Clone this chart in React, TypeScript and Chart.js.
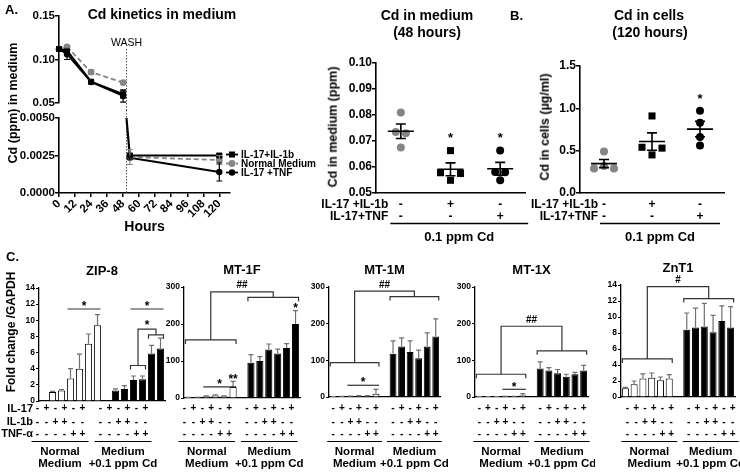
import React, { useEffect, useRef } from 'react';
import { Chart, registerables } from 'chart.js';

Chart.register(...registerables);

const FONT = '"Liberation Sans", Arial, Helvetica, sans-serif';
Chart.defaults.font.family = FONT;
Chart.defaults.color = '#000';

const GRAY = '#858585';

// ---------------- A. Cd kinetics in medium ----------------
const KIN_SERIES = ['IL-17+IL-1b', 'Normal Medium', 'IL-17 +TNF'];
const HOURS_BEFORE_WASH = [0, 6, 24, 48];
const IL1B_BEFORE = [0.112, 0.11, 0.0745, 0.06];
const IL1B_BEFORE_ERR = [0, 0.002, 0.0015, 0.004];
const NORMAL_BEFORE = [0.112, 0.1145, 0.0855, 0.0735];
const NORMAL_BEFORE_ERR = [0, 0.0015, 0.0025, 0.0015];
const TNF_BEFORE = [0.112, 0.106, 0.074, 0.058];
const TNF_BEFORE_ERR = [0, 0.006, 0.0015, 0.007];
const WASH_HOUR = 50.5;
const WASH_LEVEL = 0.005;
const HOURS_AFTER_WASH = [53, 120];
const IL1B_AFTER = [0.0025, 0.0025];
const IL1B_AFTER_ERR = [0.0001, 0.0001];
const NORMAL_AFTER = [0.0024, 0.0022];
const NORMAL_AFTER_ERR = [0.0005, 0.0003];
const TNF_AFTER = [0.00235, 0.0014];
const TNF_AFTER_ERR = [0.0001, 0.0006];
const HOUR_TICKS = [0, 12, 24, 36, 48, 60, 72, 84, 96, 108, 120];
const HOUR_AXIS_END = 128;
const UPPER_MIN = 0.05;
const UPPER_MAX = 0.15;
const UPPER_TICKS = [0.05, 0.1, 0.15];
const LOWER_TICKS = [0, 0.0025, 0.005];

// ---------------- Dot plots ----------------
const DOT_GROUPS = ['Control', 'IL-17+IL-1b', 'IL-17+TNF'];
const DOT_ROW_NAMES = ['IL-17 +IL-1b', 'IL-17+TNF'];
const DOT_ROW_IL1B = ['-', '+', '-'];
const DOT_ROW_TNF = ['-', '-', '+'];
const DOT_CAPTION = '0.1 ppm Cd';

const MED48_CONTROL = [0.081, 0.0735, 0.073, 0.0675];
const MED48_IL1B = [0.0663, 0.0578, 0.0575, 0.0549];
const MED48_TNF = [0.0663, 0.0581, 0.058, 0.0549];
const MED48_STARS = ['', '*', '*'];

const CELLS_CONTROL = [0.49, 0.32, 0.29, 0.29];
const CELLS_IL1B = [0.91, 0.54, 0.53, 0.45];
const CELLS_TNF = [0.97, 0.83, 0.66, 0.56];
const CELLS_STARS = ['', '', '*'];

// ---------------- C. bar charts ----------------
const ROW_NAMES = ['IL-17', 'IL-1b', 'TNF-\u03b1'];
const IL17_ROW = ['-', '+', '-', '+', '-', '+'];
const IL1B_ROW = ['-', '-', '+', '+', '-', '-'];
const TNF_ROW = ['-', '-', '-', '-', '+', '+'];
const GROUP_LABELS = [['Normal', 'Medium'], ['Medium', '+0.1 ppm Cd']];

const ZIP8_NORMAL = [1.1, 1.3, 2.8, 4.0, 7.1, 9.4];
const ZIP8_NORMAL_ERR = [0.1, 0.1, 1.2, 1.8, 1.2, 1.3];
const ZIP8_CD = [1.3, 1.5, 2.6, 2.7, 5.9, 6.5];
const ZIP8_CD_ERR = [0.2, 0.4, 0.5, 0.4, 1.0, 1.3];

const MT1F_NORMAL = [1, 1.5, 5, 7, 5, 30];
const MT1F_NORMAL_ERR = [0.5, 0.5, 1, 1.5, 1, 15];
const MT1F_CD = [95, 100, 131, 120, 135, 200];
const MT1F_CD_ERR = [22, 12, 15, 12, 12, 36];

const MT1M_NORMAL = [1, 1.5, 2, 3, 3, 9];
const MT1M_NORMAL_ERR = [0.3, 0.3, 0.5, 1, 1, 12];
const MT1M_CD = [118, 138, 123, 106, 138, 165];
const MT1M_CD_ERR = [35, 23, 30, 22, 37, 48];

const MT1X_NORMAL = [1, 1, 1, 1.5, 1.5, 5];
const MT1X_NORMAL_ERR = [0.3, 0.3, 0.3, 0.5, 0.5, 4];
const MT1X_CD = [78, 72, 65, 55, 62, 72];
const MT1X_CD_ERR = [18, 8, 10, 7, 5, 14];

const ZNT1_NORMAL = [1.1, 1.6, 2.3, 2.4, 2.1, 2.3];
const ZNT1_NORMAL_ERR = [0.1, 0.4, 0.6, 0.6, 0.4, 0.5];
const ZNT1_CD = [8.4, 8.7, 8.8, 8.1, 9.5, 8.7];
const ZNT1_CD_ERR = [2.1, 2.4, 2.9, 2.1, 1.9, 2.6];

// significance marks (bar numbers 0-11: 0-5 normal, 6-11 Cd)
const ZIP8_MARKS = [
  { kind: 'line', from: 2, to: 5, y: 11.4, label: '*' },
  { kind: 'line', from: 8, to: 11, y: 11.4, label: '*' },
  { kind: 'bridge', a: [8, 9], ay: 4.4, b: [10, 11], by: 8.2, top: 8.9, label: '*' },
];
const MT1F_MARKS = [
  { kind: 'line', from: 2, to: 5, y: 30, label: '*' },
  { kind: 'text', at: 5, y: 60, label: '**' },
  { kind: 'text', at: 11, y: 252, label: '*' },
  { kind: 'bridge', a: [0, 5], ay: 157, b: [6, 11], by: 272, top: 287, label: '##' },
];
const MT1M_MARKS = [
  { kind: 'line', from: 2, to: 5, y: 32, label: '*' },
  { kind: 'bridge', a: [0, 5], ay: 94, b: [6, 11], by: 274, top: 289, label: '##' },
];
const MT1X_MARKS = [
  { kind: 'line', from: 3, to: 5, y: 21, label: '*' },
  { kind: 'bridge', a: [0, 5], ay: 62, b: [6, 11], by: 126, top: 193, label: '##' },
];
const ZNT1_MARKS = [
  { kind: 'bridge', a: [0, 5], ay: 4.76, b: [6, 11], by: 12.3, top: 13.8, label: '#' },
];

// ---------------- helpers ----------------
function spreadOffsets(ys: number[], near: number, step: number): number[] {
  const order = ys.map((_, i) => i).sort((a, b) => ys[a] - ys[b]);
  const offs = ys.map(() => 0);
  const clusters: number[][] = [];
  order.forEach((i) => {
    const last = clusters[clusters.length - 1];
    if (last && ys[i] - ys[last[last.length - 1]] < near) last.push(i);
    else clusters.push([i]);
  });
  clusters.forEach((c) => {
    const n = c.length;
    if (n < 2) return;
    const iso = c.map((i) => Math.min(...c.filter((j) => j !== i).map((j) => Math.abs(ys[i] - ys[j]))));
    const rank = c.map((_, k) => k).sort((a, b) => (iso[b] - iso[a]) || (ys[c[a]] - ys[c[b]]));
    const slots = c.map((_, k) => k - (n - 1) / 2).sort((a, b) => (Math.abs(a) - Math.abs(b)) || (a - b));
    rank.forEach((k, r) => { offs[c[k]] = slots[r] * step; });
  });
  return offs;
}

function drawMark(ctx: any, text: string, x: number, yCenter: number, size: number) {
  ctx.font = `bold ${size}px ${FONT}`;
  ctx.textAlign = 'center';
  ctx.textBaseline = 'alphabetic';
  const k = text.includes('*') ? 0.6 : 0.36;
  ctx.fillText(text, x, yCenter + k * size);
}

const KIN_STYLES = [
  { color: '#000', dash: [] as number[], width: 2.2, point: 'rect', radius: 4.2 },
  { color: GRAY, dash: [5, 3], width: 1.8, point: 'circle', radius: 3.4 },
  { color: '#000', dash: [] as number[], width: 1.8, point: 'circle', radius: 3.2 },
];

function kinDataset(i: number, xs: number[], ys: number[], shown: boolean[]) {
  const s = KIN_STYLES[i];
  return {
    label: KIN_SERIES[i],
    data: xs.map((x, k) => ({ x, y: ys[k] })),
    borderColor: s.color,
    backgroundColor: s.color,
    borderWidth: s.width,
    borderDash: s.dash,
    pointStyle: s.point,
    pointRadius: shown.map((v) => (v ? s.radius : 0)),
    pointBorderWidth: 0,
    tension: 0,
    clip: false,
  };
}

function errorBarsPlugin(errs: number[][]) {
  return {
    id: 'kinErr',
    afterDatasetsDraw(chart: any) {
      const ctx = chart.ctx;
      const ys = chart.scales.y;
      chart.data.datasets.forEach((ds: any, di: number) => {
        const meta = chart.getDatasetMeta(di);
        meta.data.forEach((el: any, i: number) => {
          const e = errs[di][i];
          if (!e) return;
          const v = ds.data[i].y;
          const y1 = ys.getPixelForValue(v + e);
          const y2 = ys.getPixelForValue(v - e);
          ctx.save();
          ctx.strokeStyle = KIN_STYLES[di].color;
          ctx.lineWidth = 1.2;
          ctx.beginPath();
          ctx.moveTo(el.x, y1); ctx.lineTo(el.x, y2);
          ctx.moveTo(el.x - 3, y1); ctx.lineTo(el.x + 3, y1);
          ctx.moveTo(el.x - 3, y2); ctx.lineTo(el.x + 3, y2);
          ctx.stroke();
          ctx.restore();
        });
      });
    },
  };
}

// y tick labels drawn from the scale
function yLabelsPlugin(values: number[], digits: number, font: string) {
  return {
    id: 'yLabels',
    afterDraw(chart: any) {
      const { ctx, chartArea: ca } = chart;
      const ys = chart.scales.y;
      ctx.save();
      ctx.fillStyle = '#000';
      ctx.font = font;
      ctx.textAlign = 'right';
      ctx.textBaseline = 'middle';
      values.forEach((v) => ctx.fillText(v.toFixed(digits), ca.left - 4, ys.getPixelForValue(v)));
      ctx.restore();
    },
  };
}

function washPlugin(upper: boolean) {
  return {
    id: 'wash',
    beforeDatasetsDraw(chart: any) {
      const { ctx, chartArea: ca } = chart;
      const x = Math.round(chart.scales.x.getPixelForValue(WASH_HOUR)) + 0.5;
      const y0 = upper ? ca.top + 33 : 0;
      const y1 = upper ? chart.height : ca.bottom;
      ctx.save();
      ctx.strokeStyle = '#555';
      ctx.lineWidth = 1;
      ctx.setLineDash([1.5, 1.5]);
      ctx.beginPath(); ctx.moveTo(x, y0); ctx.lineTo(x, y1); ctx.stroke();
      if (upper) {
        ctx.setLineDash([]);
        ctx.fillStyle = '#000';
        ctx.font = `10.5px ${FONT}`;
        ctx.textAlign = 'center';
        ctx.textBaseline = 'middle';
        ctx.fillText('WASH', x, ca.top + 27);
      }
      ctx.restore();
    },
  };
}

function kinLegendPlugin() {
  return {
    id: 'kinLegend',
    afterDraw(chart: any) {
      const { ctx, chartArea: ca } = chart;
      ctx.save();
      KIN_SERIES.forEach((name, i) => {
        const s = KIN_STYLES[i];
        const y = ca.top + 36.5 + i * 9;
        const x0 = ca.right - 4;
        const x1 = ca.right + 8;
        ctx.strokeStyle = s.color;
        ctx.lineWidth = 1.8;
        ctx.setLineDash(s.dash.length ? [3, 2] : []);
        ctx.beginPath(); ctx.moveTo(x0, y); ctx.lineTo(x1, y); ctx.stroke();
        ctx.setLineDash([]);
        ctx.fillStyle = s.color;
        const cx = (x0 + x1) / 2;
        if (s.point === 'rect') ctx.fillRect(cx - 3, y - 3, 6, 6);
        else { ctx.beginPath(); ctx.arc(cx, y, s.radius, 0, Math.PI * 2); ctx.fill(); }
        ctx.fillStyle = '#000';
        ctx.font = `bold 10px ${FONT}`;
        ctx.textAlign = 'left';
        ctx.textBaseline = 'middle';
        ctx.fillText(name, x1 + 3, y + 0.5);
      });
      ctx.restore();
    },
  };
}

const TICK_A = { size: 11.5, weight: 'bold' as const };
const TICK_A_CSS = `bold 11.5px ${FONT}`;
const AXIS_BORDER = { color: '#000', width: 1.6 };
const Y_GRID = { drawOnChartArea: false, color: '#000', tickLength: 4, lineWidth: 1.5 };
const fixedTicks = (values: number[]) => (s: any) => { s.ticks = values.map((value) => ({ value })); };

// upper kinetics frame (page pixels)
const UP_TOP = 16;
const UP_BOTTOM = 103;
const UP_AXIS_X = 59;

function kineticsUpper() {
  const vals = [IL1B_BEFORE, NORMAL_BEFORE, TNF_BEFORE];
  const errs = [IL1B_BEFORE_ERR, NORMAL_BEFORE_ERR, TNF_BEFORE_ERR];
  const shown = HOURS_BEFORE_WASH.map(() => true);
  return {
    type: 'line',
    data: { datasets: vals.map((v, i) => kinDataset(i, HOURS_BEFORE_WASH, v, shown)) },
    options: {
      animation: false, responsive: false, events: [],
      layout: { padding: { top: UP_TOP, right: 45, bottom: 110 - UP_BOTTOM, left: 0 } },
      plugins: { legend: { display: false }, tooltip: { enabled: false } },
      scales: {
        x: { type: 'linear', min: 0, max: HOUR_AXIS_END, display: false },
        y: {
          min: UPPER_MIN, max: UPPER_MAX,
          afterBuildTicks: fixedTicks(UPPER_TICKS),
          ticks: { display: false },
          grid: Y_GRID, border: AXIS_BORDER,
          afterFit: (s: any) => { s.width = UP_AXIS_X; },
        },
      },
    },
    plugins: [washPlugin(true), errorBarsPlugin(errs)],
  };
}

function kineticsLower() {
  const il1bX = [WASH_HOUR, ...HOURS_AFTER_WASH];
  const il1bY = [WASH_LEVEL, ...IL1B_AFTER];
  const datasets = [
    kinDataset(0, il1bX, il1bY, [false, true, true]),
    kinDataset(1, HOURS_AFTER_WASH, NORMAL_AFTER, [true, true]),
    kinDataset(2, HOURS_AFTER_WASH, TNF_AFTER, [true, true]),
  ];
  const errs = [[0, ...IL1B_AFTER_ERR], NORMAL_AFTER_ERR, TNF_AFTER_ERR];
  return {
    type: 'line',
    data: { datasets },
    options: {
      animation: false, responsive: false, events: [],
      layout: { padding: { top: 8, right: 100, bottom: 0, left: 0 } },
      plugins: { legend: { display: false }, tooltip: { enabled: false } },
      scales: {
        x: {
          type: 'linear', min: 0, max: HOUR_AXIS_END,
          afterBuildTicks: fixedTicks(HOUR_TICKS),
          ticks: { minRotation: 45, maxRotation: 45, autoSkip: false, font: TICK_A, padding: 0 },
          grid: Y_GRID, border: AXIS_BORDER,
          title: { display: true, text: 'Hours', font: { size: 14, weight: 'bold' }, padding: { top: 0, bottom: 4 } },
          afterFit: (s: any) => { s.height = 47; },
        },
        y: {
          min: 0, max: 0.005,
          afterBuildTicks: fixedTicks(LOWER_TICKS),
          ticks: { display: false },
          grid: Y_GRID, border: AXIS_BORDER,
          afterFit: (s: any) => { s.width = 59; },
        },
      },
    },
    plugins: [washPlugin(false), errorBarsPlugin(errs), kinLegendPlugin(), yLabelsPlugin(LOWER_TICKS, 4, TICK_A_CSS)],
  };
}

// ---------------- dot plot config ----------------
const DOT_STYLES = [
  { color: GRAY, point: 'circle', radius: 4 },
  { color: '#000', point: 'rect', radius: 5 },
  { color: '#000', point: 'circle', radius: 4 },
];

function dotDecor(spec: any) {
  return {
    id: 'dotDecor',
    afterDatasetsUpdate(chart: any) {
      chart.data.datasets.forEach((_: any, di: number) => {
        const els = chart.getDatasetMeta(di).data;
        const offs = spreadOffsets(els.map((e: any) => e.y), 8, 10);
        els.forEach((e: any, i: number) => { e.x += offs[i]; });
      });
    },
    afterDatasetsDraw(chart: any) {
      const { ctx } = chart;
      const xs = chart.scales.x;
      const ys = chart.scales.y;
      ctx.save();
      ctx.strokeStyle = '#000';
      ctx.lineWidth = 1.6;
      spec.groups.forEach((vals: number[], gi: number) => {
        const n = vals.length;
        const m = vals.reduce((a, b) => a + b, 0) / n;
        const sd = Math.sqrt(vals.reduce((a, v) => a + (v - m) ** 2, 0) / (n - 1));
        const sem = sd / Math.sqrt(n);
        const cx = xs.getPixelForValue(gi);
        const ym = ys.getPixelForValue(m);
        const yh = ys.getPixelForValue(m + sem);
        const yl = ys.getPixelForValue(m - sem);
        ctx.beginPath();
        ctx.moveTo(cx - 13, ym); ctx.lineTo(cx + 13, ym);
        ctx.moveTo(cx, yh); ctx.lineTo(cx, yl);
        ctx.moveTo(cx - 5, yh); ctx.lineTo(cx + 5, yh);
        ctx.moveTo(cx - 5, yl); ctx.lineTo(cx + 5, yl);
        ctx.stroke();
      });
      ctx.fillStyle = '#000';
      spec.stars.forEach((s: string, gi: number) => {
        if (!s) return;
        const top = Math.min(...chart.getDatasetMeta(gi).data.map((e: any) => e.y));
        drawMark(ctx, s, xs.getPixelForValue(gi), top - 16, 13);
      });
      ctx.restore();
    },
    afterDraw(chart: any) {
      const { ctx, chartArea: ca } = chart;
      const xs = chart.scales.x;
      const rows = [DOT_ROW_IL1B, DOT_ROW_TNF];
      const rowY = [ca.bottom + 11.75, ca.bottom + 23.25];
      const nameRight = xs.getPixelForValue(0) - spec.rowGap;
      ctx.save();
      ctx.fillStyle = '#000';
      ctx.textBaseline = 'middle';
      ctx.font = `bold 12px ${FONT}`;
      rows.forEach((row, r) => {
        ctx.textAlign = 'right';
        ctx.fillText(DOT_ROW_NAMES[r], nameRight, rowY[r]);
        ctx.textAlign = 'center';
        row.forEach((sgn, gi) => ctx.fillText(sgn, xs.getPixelForValue(gi), rowY[r]));
      });
      const x0 = nameRight + 2;
      const x1 = xs.getPixelForValue(DOT_GROUPS.length - 1) + spec.capRight;
      const uy = ca.bottom + 30.5;
      ctx.strokeStyle = '#000';
      ctx.lineWidth = 1.3;
      ctx.beginPath(); ctx.moveTo(x0, uy); ctx.lineTo(x1, uy); ctx.stroke();
      ctx.font = `bold 13px ${FONT}`;
      ctx.textAlign = 'center';
      ctx.fillText(DOT_CAPTION, (x0 + x1) / 2, ca.bottom + 44);
      ctx.restore();
    },
  };
}

function dotConfig(spec: any) {
  return {
    type: 'line',
    data: {
      labels: DOT_GROUPS,
      datasets: spec.groups.map((vals: number[], gi: number) => ({
        data: vals.map((v) => ({ x: DOT_GROUPS[gi], y: v })),
        showLine: false,
        pointStyle: DOT_STYLES[gi].point,
        pointRadius: DOT_STYLES[gi].radius,
        pointBorderWidth: 0,
        backgroundColor: DOT_STYLES[gi].color,
        borderColor: DOT_STYLES[gi].color,
        clip: false,
      })),
    },
    options: {
      animation: false, responsive: false, events: [],
      layout: { padding: { top: spec.padTop, right: spec.padRight, bottom: 0, left: 0 } },
      plugins: { legend: { display: false }, tooltip: { enabled: false } },
      scales: {
        x: {
          type: 'category', offset: true,
          ticks: { display: false },
          grid: { drawOnChartArea: false, drawTicks: false },
          border: AXIS_BORDER,
          afterFit: (s: any) => { s.height = spec.xHeight; },
        },
        y: {
          min: spec.yMin, max: spec.yMax,
          afterBuildTicks: fixedTicks(spec.yTicks),
          ticks: { display: false },
          grid: Y_GRID, border: AXIS_BORDER,
          afterFit: (s: any) => { s.width = spec.yWidth; },
        },
      },
    },
    plugins: [dotDecor(spec), yLabelsPlugin(spec.yTicks, spec.digits, `bold 12px ${FONT}`)],
  };
}

// ---------------- bar chart config ----------------
const SIGN_Y = [163.5, 177, 189];
const UNDERLINE_Y = 196.5;
const GROUP_TEXT_Y = [206.5, 218.5];

function barDecor(spec: any, slotOf: (b: number) => number) {
  return {
    id: 'barDecor',
    afterDatasetsDraw(chart: any) {
      const { ctx } = chart;
      const xs = chart.scales.x;
      const ys = chart.scales.y;
      const bx = (b: number) => xs.getPixelForValue(slotOf(b));
      const py = (v: number) => ys.getPixelForValue(v);
      const vals = [...spec.normal, ...spec.cd];
      const errs = [...spec.normalErr, ...spec.cdErr];
      ctx.save();
      ctx.lineWidth = 1.2;
      ctx.strokeStyle = '#707070';
      vals.forEach((v, b) => {
        const x = bx(b);
        const y0 = py(v);
        const y1 = py(v + errs[b]);
        ctx.beginPath();
        ctx.moveTo(x, y0); ctx.lineTo(x, y1);
        ctx.moveTo(x - 2.5, y1); ctx.lineTo(x + 2.5, y1);
        ctx.stroke();
      });
      ctx.strokeStyle = '#333';
      ctx.fillStyle = '#000';
      const bracket = (x0: number, x1: number, y: number) => {
        ctx.beginPath();
        ctx.moveTo(x0, y + 4); ctx.lineTo(x0, y); ctx.lineTo(x1, y); ctx.lineTo(x1, y + 4);
        ctx.stroke();
      };
      spec.marks.forEach((m: any) => {
        if (m.kind === 'line') {
          const y = py(m.y);
          const x0 = bx(m.from) - 3;
          const x1 = bx(m.to) + 3;
          ctx.beginPath(); ctx.moveTo(x0, y); ctx.lineTo(x1, y); ctx.stroke();
          drawMark(ctx, m.label, (x0 + x1) / 2, y - 6, 12);
        } else if (m.kind === 'text') {
          drawMark(ctx, m.label, bx(m.at), py(m.y), 12);
        } else {
          const ax0 = bx(m.a[0]) - 3, ax1 = bx(m.a[1]) + 3, ay = py(m.ay);
          const bx0 = bx(m.b[0]) - 3, bx1 = bx(m.b[1]) + 3, by = py(m.by);
          const ty = py(m.top);
          bracket(ax0, ax1, ay);
          bracket(bx0, bx1, by);
          const acx = (ax0 + ax1) / 2;
          const bcx = (bx0 + bx1) / 2;
          ctx.beginPath();
          ctx.moveTo(acx, ay); ctx.lineTo(acx, ty); ctx.lineTo(bcx, ty); ctx.lineTo(bcx, by);
          ctx.stroke();
          drawMark(ctx, m.label, (acx + bcx) / 2, ty - 7, m.label.includes('#') ? 10 : 12);
        }
      });
      ctx.restore();
    },
    afterDraw(chart: any) {
      const { ctx, chartArea: ca } = chart;
      const xs = chart.scales.x;
      const sx = (b: number) => xs.getPixelForValue(slotOf(b)) + spec.signShift;
      const rows = [IL17_ROW, IL1B_ROW, TNF_ROW];
      ctx.save();
      ctx.fillStyle = '#000';
      ctx.textBaseline = 'middle';
      ctx.textAlign = 'center';
      ctx.font = `bold 13px ${FONT}`;
      ctx.fillText(spec.title, (ca.left + ca.right) / 2, ca.top - 17);
      ctx.font = `bold 10px ${FONT}`;
      for (let b = 0; b < 12; b++) {
        rows.forEach((row, r) => ctx.fillText(row[b % 6], sx(b), SIGN_Y[r]));
      }
      if (spec.rowLabels) {
        ctx.font = `bold 11px ${FONT}`;
        ctx.textAlign = 'right';
        ROW_NAMES.forEach((nm, r) => ctx.fillText(nm, ca.left - 6, SIGN_Y[r]));
        ctx.textAlign = 'center';
      }
      ctx.strokeStyle = '#000';
      ctx.lineWidth = 1.2;
      ctx.font = `bold 11.5px ${FONT}`;
      [0, 1].forEach((g) => {
        const x0 = sx(g * 6) - 6;
        const x1 = sx(g * 6 + 5) + 6;
        ctx.beginPath(); ctx.moveTo(x0, UNDERLINE_Y); ctx.lineTo(x1, UNDERLINE_Y); ctx.stroke();
        GROUP_LABELS[g].forEach((t, k) => ctx.fillText(t, (x0 + x1) / 2, GROUP_TEXT_Y[k]));
      });
      ctx.restore();
    },
  };
}

function barConfig(spec: any) {
  const lead = spec.leadGap ? 1 : 0;
  const nSlots = lead + 13;
  const slotOf = (b: number) => lead + b + (b >= 6 ? 1 : 0);
  const labels = Array.from({ length: nSlots }, (_, k) => `slot${k}`);
  const data: (number | null)[] = labels.map(() => null);
  const colors: string[] = labels.map(() => '#fff');
  spec.normal.forEach((v: number, b: number) => { data[slotOf(b)] = v; colors[slotOf(b)] = '#fff'; });
  spec.cd.forEach((v: number, b: number) => { data[slotOf(b + 6)] = v; colors[slotOf(b + 6)] = '#000'; });
  const yTicks = Array.from({ length: Math.round(spec.yMax / spec.yStep) + 1 }, (_, k) => k * spec.yStep);
  return {
    type: 'bar',
    data: {
      labels,
      datasets: [{
        data, backgroundColor: colors, borderColor: '#000', borderWidth: 1,
        barPercentage: 0.8, categoryPercentage: 1,
      }],
    },
    options: {
      animation: false, responsive: false, events: [],
      layout: { padding: { top: spec.padTop, right: spec.padRight, bottom: 0, left: 0 } },
      plugins: { legend: { display: false }, tooltip: { enabled: false } },
      scales: {
        x: {
          ticks: { display: false },
          grid: { drawOnChartArea: false, drawTicks: false },
          border: { color: '#000', width: 1.3 },
          afterFit: (s: any) => { s.height = spec.xHeight; },
        },
        y: {
          min: 0, max: spec.yMax,
          afterBuildTicks: fixedTicks(yTicks),
          ticks: { display: false },
          grid: { drawOnChartArea: false, color: '#000', tickLength: 3, lineWidth: 1 },
          border: { color: '#000', width: 1.3 },
          afterFit: (s: any) => { s.width = spec.yWidth; },
        },
      },
    },
    plugins: [barDecor(spec, slotOf), yLabelsPlugin(yTicks, 0, `bold 8.5px ${FONT}`)],
  };
}

// ---------------- components ----------------
function ChartBox({ left, top, width, height, make }: any) {
  const ref = useRef<HTMLCanvasElement>(null);
  useEffect(() => {
    const chart = new Chart(ref.current as HTMLCanvasElement, make());
    return () => chart.destroy();
  }, []);
  return (
    <canvas ref={ref} width={width} height={height}
      style={{ position: 'absolute', left, top, width, height }} />
  );
}

function Txt({ x, y, size = 13, rot = false, anchor = 'center', weight = 'bold', children }: any) {
  const tx = anchor === 'left' ? '0' : anchor === 'right' ? '-100%' : '-50%';
  return (
    <div style={{
      position: 'absolute', left: x, top: y, zIndex: 2,
      transform: `translate(${tx}, -50%)${rot ? ' rotate(-90deg)' : ''}`,
      fontSize: size, fontWeight: weight, whiteSpace: 'nowrap', lineHeight: 1,
      fontFamily: FONT, color: '#000',
    }}>{children}</div>
  );
}

export default function App() {
  // page y of an upper-panel value, same linear mapping as the upper chart's scale
  const upperY = (v: number) => UP_BOTTOM - ((v - UPPER_MIN) / (UPPER_MAX - UPPER_MIN)) * (UP_BOTTOM - UP_TOP);
  return (
    <div style={{ position: 'absolute', left: 0, top: 0, width: 740, height: 472, background: '#fff', overflow: 'hidden' }}>
      <ChartBox left={0} top={0} width={275} height={110} make={kineticsUpper} />
      <ChartBox left={0} top={110} width={330} height={130} make={kineticsLower} />
      <ChartBox left={300} top={0} width={240} height={245} make={() => dotConfig({
        groups: [MED48_CONTROL, MED48_IL1B, MED48_TNF], stars: MED48_STARS,
        yMin: 0.05, yMax: 0.1, yTicks: [0.05, 0.06, 0.07, 0.08, 0.09, 0.1], digits: 2,
        yWidth: 76, padTop: 63, padRight: 15, xHeight: 52, rowGap: 12.5, capRight: 28,
      })} />
      <ChartBox left={510} top={0} width={230} height={245} make={() => dotConfig({
        groups: [CELLS_CONTROL, CELLS_IL1B, CELLS_TNF], stars: CELLS_STARS,
        yMin: 0, yMax: 1.5, yTicks: [0, 0.5, 1, 1.5], digits: 1,
        yWidth: 70, padTop: 66, padRight: 16, xHeight: 52, rowGap: 6, capRight: 20,
      })} />
      <ChartBox left={0} top={245} width={185} height={227} make={() => barConfig({
        title: 'ZIP-8', normal: ZIP8_NORMAL, normalErr: ZIP8_NORMAL_ERR, cd: ZIP8_CD, cdErr: ZIP8_CD_ERR,
        yMax: 14, yStep: 2, yWidth: 39, padRight: 20, padTop: 43, xHeight: 71, leadGap: true,
        signShift: -15, marks: ZIP8_MARKS, rowLabels: true,
      })} />
      <ChartBox left={150} top={245} width={165} height={227} make={() => barConfig({
        title: 'MT-1F', normal: MT1F_NORMAL, normalErr: MT1F_NORMAL_ERR, cd: MT1F_CD, cdErr: MT1F_CD_ERR,
        yMax: 300, yStep: 100, yWidth: 34, padRight: 15, padTop: 42, xHeight: 74, leadGap: false,
        signShift: -4, marks: MT1F_MARKS, rowLabels: false,
      })} />
      <ChartBox left={300} top={245} width={150} height={227} make={() => barConfig({
        title: 'MT-1M', normal: MT1M_NORMAL, normalErr: MT1M_NORMAL_ERR, cd: MT1M_CD, cdErr: MT1M_CD_ERR,
        yMax: 300, yStep: 100, yWidth: 29, padRight: 10, padTop: 42, xHeight: 75, leadGap: false,
        signShift: 0, marks: MT1M_MARKS, rowLabels: false,
      })} />
      <ChartBox left={445} top={245} width={150} height={227} make={() => barConfig({
        title: 'MT-1X', normal: MT1X_NORMAL, normalErr: MT1X_NORMAL_ERR, cd: MT1X_CD, cdErr: MT1X_CD_ERR,
        yMax: 300, yStep: 100, yWidth: 30, padRight: 7, padTop: 42, xHeight: 75, leadGap: false,
        signShift: 0, marks: MT1X_MARKS, rowLabels: false,
      })} />
      <ChartBox left={590} top={245} width={150} height={227} make={() => barConfig({
        title: 'ZnT1', normal: ZNT1_NORMAL, normalErr: ZNT1_NORMAL_ERR, cd: ZNT1_CD, cdErr: ZNT1_CD_ERR,
        yMax: 14, yStep: 2, yWidth: 31, padRight: 5, padTop: 40, xHeight: 75, leadGap: false,
        signShift: 2, marks: ZNT1_MARKS, rowLabels: false,
      })} />

      {UPPER_TICKS.map((v) => (
        <Txt key={v} x={UP_AXIS_X - 4} y={upperY(v)} size={11.5} anchor="right">{v.toFixed(2)}</Txt>
      ))}
      <Txt x={5} y={9} size={13} anchor="left">A.</Txt>
      <Txt x={162} y={14} size={14}>Cd kinetics in medium</Txt>
      <Txt x={13} y={103} size={12.5} rot>Cd (ppm) in medium</Txt>
      <Txt x={427} y={15} size={14}>Cd in medium</Txt>
      <Txt x={427} y={32} size={14}>(48 hours)</Txt>
      <Txt x={333} y={127} size={12.5} rot>Cd in medium (ppm)</Txt>
      <Txt x={510} y={15} size={13} anchor="left">B.</Txt>
      <Txt x={649} y={15} size={14}>Cd in cells</Txt>
      <Txt x={650} y={32} size={14}>(120 hours)</Txt>
      <Txt x={545} y={127} size={12.5} rot>Cd in cells (µg/ml)</Txt>
      <Txt x={6} y={256} size={13} anchor="left">C.</Txt>
      <Txt x={11} y={332} size={12} rot>Fold change /GAPDH</Txt>
    </div>
  );
}
